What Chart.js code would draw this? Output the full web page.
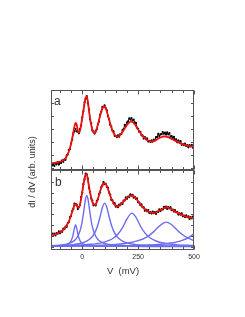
<!DOCTYPE html>
<html>
<head>
<meta charset="utf-8">
<script src="https://cdn.jsdelivr.net/npm/chart.js@4"></script>
<style>
  html, body { margin: 0; padding: 0; background: #fff; }
</style>
</head>
<body>
<canvas id="chart" width="245" height="317"></canvas>
<script>
// Bias voltage grid for the measured data and the fits (mV)
const voltage = [
  -140, -135, -130, -125, -120, -115, -110, -105, -100, -95, -90, -85, -80, -75, -70, -65,
  -60, -55, -50, -45, -40, -35, -30, -25, -20, -15, -10, -5, 0, 5, 10, 15,
  20, 25, 30, 35, 40, 45, 50, 55, 60, 65, 70, 75, 80, 85, 90, 95,
  100, 105, 110, 115, 120, 125, 130, 135, 140, 145, 150, 155, 160, 165, 170, 175,
  180, 185, 190, 195, 200, 205, 210, 215, 220, 225, 230, 235, 240, 245, 250, 255,
  260, 265, 270, 275, 280, 285, 290, 295, 300, 305, 310, 315, 320, 325, 330, 335,
  340, 345, 350, 355, 360, 365, 370, 375, 380, 385, 390, 395, 400, 405, 410, 415,
  420, 425, 430, 435, 440, 445, 450, 455, 460, 465, 470, 475, 480, 485, 490, 495,
  500
];

// Panel a: measured dI/dV (black) and fit (red), arb. units
const dataA = [
  3.9, 2.0, 3.4, 1.6, 4.2, 3.2, 5.3, 2.9, 5.0, 4.5, 7.2, 5.7, 8.2, 7.7, 11.9, 13.0,
  17.6, 18.4, 24.2, 27.9, 34.2, 36.2, 38.4, 36.0, 35.9, 34.2, 38.6, 41.9, 50.2, 56.4, 65.2, 68.7,
  71.4, 64.5, 57.9, 48.2, 44.1, 36.9, 35.7, 33.9, 36.7, 38.2, 43.4, 46.0, 52.9, 55.7, 60.6, 60.6,
  62.2, 59.4, 57.2, 51.2, 48.4, 42.5, 40.9, 36.7, 36.1, 31.7, 31.7, 30.4, 32.2, 30.8, 33.4, 33.5,
  37.4, 38.4, 42.6, 41.7, 45.2, 46.2, 49.2, 47.9, 49.4, 47.0, 47.9, 44.9, 44.6, 39.7, 38.7, 35.6,
  35.7, 32.2, 31.9, 28.9, 30.4, 28.2, 29.1, 25.9, 26.7, 25.6, 27.2, 25.9, 27.9, 27.0, 30.4, 30.4,
  33.6, 31.4, 33.2, 33.3, 35.5, 33.7, 34.9, 32.9, 35.1, 33.0, 34.4, 30.6, 31.3, 29.4, 30.7, 27.6,
  28.2, 25.2, 27.1, 24.9, 26.3, 22.6, 23.5, 22.3, 23.8, 21.5, 22.4, 20.2, 22.4, 21.0, 22.7, 19.8,
  21.0
];
const fitA = [
  4.2, 4.3, 4.5, 4.6, 4.8, 5.0, 5.2, 5.5, 5.8, 6.1, 6.5, 7.0, 7.8, 9.2, 11.0, 13.3,
  16.0, 19.5, 24.0, 29.5, 35.0, 41.0, 44.5, 43.0, 37.0, 34.5, 37.0, 43.0, 50.0, 57.0, 64.0, 69.5,
  71.0, 66.0, 57.0, 48.5, 42.5, 38.0, 35.5, 34.5, 35.5, 39.0, 43.0, 47.5, 52.0, 56.0, 59.0, 60.7,
  61.0, 59.0, 56.0, 52.0, 48.0, 44.0, 40.0, 37.0, 34.5, 32.8, 31.5, 31.0, 31.0, 31.6, 32.5, 34.0,
  35.5, 37.2, 39.0, 40.8, 42.5, 43.8, 45.0, 45.7, 46.0, 45.5, 44.5, 43.2, 41.5, 39.8, 38.0, 36.2,
  34.5, 33.0, 31.5, 30.4, 29.5, 28.5, 27.5, 27.0, 26.5, 26.2, 26.0, 26.2, 26.5, 27.0, 27.5, 28.2,
  29.0, 29.5, 30.0, 30.4, 30.8, 31.0, 31.0, 30.9, 30.7, 30.3, 29.8, 29.2, 28.6, 28.0, 27.5, 26.9,
  26.3, 25.7, 25.2, 24.7, 24.2, 23.7, 23.3, 22.9, 22.6, 22.3, 22.0, 21.7, 21.5, 21.3, 21.1, 20.9,
  20.8
];

// Panel b: measured dI/dV (black) and fit (red)
const dataB = [
  10.6, 13.0, 11.7, 12.9, 11.0, 13.3, 12.8, 15.2, 13.2, 15.1, 14.7, 17.9, 17.6, 20.0, 19.6, 23.4,
  24.6, 29.5, 30.5, 35.3, 37.6, 42.8, 42.1, 41.8, 37.4, 39.3, 41.6, 49.5, 54.0, 62.3, 67.1, 72.8,
  72.2, 67.8, 58.6, 54.5, 48.1, 46.0, 41.2, 41.8, 41.1, 45.6, 47.3, 52.3, 54.1, 59.3, 61.1, 64.5,
  62.4, 62.6, 59.6, 58.8, 53.8, 51.8, 46.6, 46.1, 43.1, 43.4, 39.8, 40.6, 39.3, 42.0, 41.4, 43.5,
  42.6, 45.8, 46.1, 49.1, 47.7, 49.9, 49.4, 52.1, 50.8, 51.6, 48.8, 49.7, 47.6, 48.2, 44.2, 44.0,
  41.3, 42.1, 39.3, 39.1, 35.8, 36.8, 35.2, 36.5, 33.5, 34.4, 32.9, 34.9, 33.4, 34.5, 32.6, 35.0,
  34.6, 37.2, 35.4, 37.4, 36.9, 39.7, 38.6, 39.8, 37.6, 39.3, 38.1, 39.5, 36.3, 36.9, 34.9, 36.4,
  34.3, 34.7, 31.9, 33.2, 31.8, 33.2, 30.2, 31.0, 29.4, 31.2, 29.4, 30.1, 27.6, 29.3, 28.2, 29.9,
  27.3
];
const fitB = [
  11.5, 11.7, 11.9, 12.1, 12.4, 12.8, 13.2, 13.7, 14.2, 14.8, 15.6, 16.6, 17.8, 19.2, 21.0, 22.9,
  25.0, 28.0, 31.5, 35.0, 38.5, 41.5, 42.3, 41.0, 38.8, 38.8, 42.0, 48.0, 55.0, 62.0, 68.0, 71.5,
  72.4, 67.0, 60.0, 54.0, 48.5, 44.5, 42.2, 41.5, 42.0, 44.3, 47.5, 51.5, 55.5, 58.8, 61.5, 63.0,
  63.4, 62.3, 60.5, 57.5, 54.0, 51.0, 48.0, 45.6, 43.5, 41.9, 40.8, 40.3, 40.2, 40.7, 41.6, 42.7,
  44.0, 45.3, 46.5, 47.6, 48.7, 49.6, 50.3, 50.8, 51.0, 50.8, 50.2, 49.2, 48.0, 46.7, 45.2, 43.7,
  42.2, 40.8, 39.5, 38.3, 37.2, 36.3, 35.6, 35.0, 34.5, 34.1, 33.8, 33.6, 33.6, 33.7, 34.0, 34.5,
  35.0, 35.7, 36.4, 37.1, 37.8, 38.4, 38.8, 39.0, 39.0, 38.8, 38.5, 38.0, 37.3, 36.6, 35.8, 35.1,
  34.5, 33.9, 33.3, 32.7, 32.2, 31.7, 31.2, 30.7, 30.3, 29.9, 29.6, 29.3, 29.0, 28.8, 28.6, 28.4,
  28.3
];

// Panel b: fitted peak components (blue)
const comp1V = [-140, -100, -80, -65, -55, -48, -42, -36, -30, -24, -18, -12, -5, 5, 20, 50, 100, 200, 300, 400, 500];
const comp1 = [0.3, 0.6, 1.2, 2.3, 4.1, 6.7, 10.8, 17.4, 21.7, 17.4, 10.8, 6.7, 4.1, 2.3, 1.2, 0.5, 0.2, 0.1, 0.05, 0.03, 0.02];
const comp2V = [-140, -100, -70, -50, -30, -20, -10, -5, 0, 5, 10, 15, 20, 25, 30, 35, 40, 45, 50, 60, 70, 90, 120, 170, 220, 320, 500];
const comp2 = [0.8, 1.4, 2.4, 3.8, 7.0, 10.2, 15.7, 19.9, 25.5, 32.6, 40.8, 48.0, 51.0, 48.0, 40.8, 32.6, 25.5, 19.9, 15.7, 10.2, 7.0, 3.8, 2.0, 0.9, 0.5, 0.2, 0.1];
const comp3V = [-140, -80, -40, -10, 20, 40, 50, 60, 70, 80, 90, 100, 110, 120, 130, 140, 150, 160, 180, 210, 240, 280, 340, 400, 500];
const comp3 = [0.7, 1.2, 1.9, 3.0, 5.4, 8.7, 11.5, 15.6, 21.7, 30.0, 39.0, 43.4, 39.0, 30.0, 21.7, 15.6, 11.5, 8.7, 5.4, 3.0, 1.9, 1.2, 0.7, 0.43, 0.24];
const comp4V = [-140, -60, 0, 40, 80, 120, 140, 160, 180, 200, 222, 240, 260, 280, 300, 330, 370, 420, 500];
const comp4 = [0.6, 0.9, 1.5, 2.2, 3.4, 6.1, 8.5, 12.5, 18.9, 27.6, 33.4, 29.3, 20.5, 13.6, 9.2, 5.5, 3.2, 1.9, 1.0];
const comp5V = [-140, -50, 50, 150, 200, 250, 290, 320, 345, 376, 405, 430, 460, 500];
const comp5 = [0.45, 0.64, 1.07, 2.1, 3.3, 5.8, 9.7, 14.9, 20.4, 24.4, 20.8, 15.3, 10.0, 5.9];
const comp6V = [-140, 0, 100, 200, 280, 340, 390, 420, 450, 475, 500];
const comp6 = [0.22, 0.33, 0.5, 0.8, 1.3, 2.0, 3.2, 4.4, 6.3, 8.9, 12.7];

// Axis ticks
const xTicks = [-100, -50, 0, 50, 100, 150, 200, 250, 300, 350, 400, 450, 500];
const xTickLabels = [0, 250, 500];
const yTicksA = [0, 13, 26, 39, 52, 65];
const yTicksB = [0, 10.8, 21.6, 32.4, 43.2, 54, 64.8];

const BLUE = 'rgb(108, 108, 240)';
const RED = 'rgb(238, 16, 16)';

function pairs(xs, ys) {
    return xs.map((x, i) => ({ x: x, y: ys[i] }));
}

// noisy measurement: small dots joined by a thin jagged line
function measured(values, axis) {
    return {
        data: pairs(voltage, values), yAxisID: axis, order: 1,
        borderColor: '#000', borderWidth: 1,
        pointRadius: 1.1, pointHoverRadius: 0,
        pointBackgroundColor: '#000', pointBorderWidth: 0
    };
}

function fitLine(values, axis) {
    return {
        data: pairs(voltage, values), yAxisID: axis, order: 0,
        borderColor: RED, borderWidth: 1.8, pointRadius: 0,
        cubicInterpolationMode: 'monotone'
    };
}

function component(xs, ys) {
    return {
        data: pairs(xs, ys), yAxisID: 'yB', order: 2,
        borderColor: BLUE, borderWidth: 1.4, pointRadius: 0,
        cubicInterpolationMode: 'monotone'
    };
}

// Frame, inward ticks, panel letters and axis text
const panelFrame = {
    id: 'panelFrame',
    afterDatasetsDraw(chart) {
        const ctx = chart.ctx;
        const xs = chart.scales.x;
        const area = chart.chartArea;
        ctx.save();
        ctx.strokeStyle = '#555';
        ctx.lineWidth = 1;
        [['yA', yTicksA], ['yB', yTicksB]].forEach(([id, ticks]) => {
            const ys = chart.scales[id];
            const top = Math.round(ys.top) + 0.5;
            const bottom = Math.round(ys.bottom) - 0.5;
            ctx.strokeRect(area.left + 0.5, top, area.right - area.left - 1, bottom - top);
            ctx.beginPath();
            xTicks.forEach(v => {
                const px = Math.round(xs.getPixelForValue(v)) + 0.5;
                const len = v % 250 === 0 ? 4 : 2.5;
                ctx.moveTo(px, top); ctx.lineTo(px, top + len);
                ctx.moveTo(px, bottom); ctx.lineTo(px, bottom - len);
            });
            ticks.forEach(v => {
                const py = Math.round(ys.getPixelForValue(v)) + 0.5;
                ctx.moveTo(area.left, py); ctx.lineTo(area.left + 3, py);
                ctx.moveTo(area.right, py); ctx.lineTo(area.right - 3, py);
            });
            ctx.stroke();
        });

        ctx.fillStyle = '#333';
        ctx.font = '12px "Liberation Sans", Arial, sans-serif';
        ctx.textAlign = 'left';
        ctx.textBaseline = 'alphabetic';
        ctx.fillText('a', 54, 104.5);
        ctx.fillText('b', 55, 186);

        ctx.font = '7px "Liberation Sans", Arial, sans-serif';
        ctx.textAlign = 'center';
        ctx.textBaseline = 'middle';
        xTickLabels.forEach(v => {
            ctx.fillText(String(v), xs.getPixelForValue(v), 257);
        });

        ctx.font = '9.5px "Liberation Sans", Arial, sans-serif';
        ctx.fillText('V  (mV)', 123, 271);
        ctx.translate(33, 172);
        ctx.rotate(-Math.PI / 2);
        ctx.font = '9px "Liberation Sans", Arial, sans-serif';
        ctx.fillText('dI / dV (arb. units)', 0, 0);
        ctx.restore();
    }
};

new Chart(document.getElementById('chart'), {
    type: 'line',
    data: {
        datasets: [
            fitLine(fitA, 'yA'),
            fitLine(fitB, 'yB'),
            measured(dataA, 'yA'),
            measured(dataB, 'yB'),
            component(comp1V, comp1),
            component(comp2V, comp2),
            component(comp3V, comp3),
            component(comp4V, comp4),
            component(comp5V, comp5),
            component(comp6V, comp6)
        ]
    },
    options: {
        responsive: false,
        animation: false,
        layout: { padding: { left: 51, right: 51, top: 90, bottom: 67 } },
        plugins: { legend: { display: false }, tooltip: { enabled: false } },
        scales: {
            x: { type: 'linear', min: -140, max: 500, display: false },
            yB: { type: 'linear', min: -3.5, max: 76.5, display: false, stack: 'panels', stackWeight: 1 },
            yA: { type: 'linear', min: -2.5, max: 77.5, display: false, stack: 'panels', stackWeight: 1 }
        }
    },
    plugins: [panelFrame]
});
</script>
</body>
</html>
